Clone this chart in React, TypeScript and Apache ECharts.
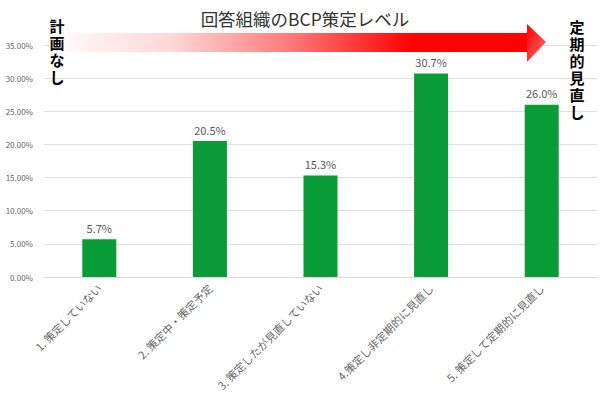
import React, { useEffect, useRef } from "react";
import * as echarts from "echarts";

const categories = [
  "1. 策定していない",
  "2. 策定中・策定予定",
  "3. 策定したが見直していない",
  "4.策定し非定期的に見直し",
  "5. 策定して定期的に見直し",
];
const values = [5.7, 20.5, 15.3, 30.7, 26.0];
const title = "回答組織のBCP策定レベル";
const leftLabel = "計画なし";
const rightLabel = "定期的見直し";

const FONT = '"Noto Sans CJK JP", "Noto Sans", sans-serif';

function verticalText(text: string, cx: number, top: number) {
  return text.split("").map((ch, i) => ({
    type: "text",
    z: 11,
    x: cx,
    y: top + i * 17,
    style: {
      text: ch,
      fontSize: 15,
      fontWeight: "bold",
      fill: "#000000",
      align: "center",
      verticalAlign: "middle",
      fontFamily: FONT,
    },
  }));
}

export default function App() {
  const ref = useRef<HTMLDivElement>(null);
  useEffect(() => {
    document.body.style.margin = "0";
    const chart = echarts.init(ref.current!, null, { renderer: "svg" });
    chart.setOption({
      animation: false,
      textStyle: { fontFamily: FONT },
      grid: { left: 44, right: 3, top: 45, bottom: 120, containLabel: false },
      xAxis: {
        type: "category",
        data: categories,
        axisTick: { show: false },
        axisLine: { show: true, lineStyle: { color: "#d9d9d9", width: 1 } },
        axisLabel: {
          rotate: 45,
          interval: 0,
          color: "#666666",
          fontSize: 11,
          margin: 9,
          fontFamily: FONT,
        },
      },
      yAxis: {
        type: "value",
        min: 0,
        max: 35,
        interval: 5,
        axisLine: { show: false },
        axisTick: { show: false },
        splitLine: { lineStyle: { color: "#e0e0e0", width: 1 } },
        axisLabel: {
          color: "#666666",
          fontSize: 8,
          margin: 11,
          formatter: (v: number) => v.toFixed(2) + "%",
          fontFamily: FONT,
        },
      },
      series: [
        {
          type: "bar",
          data: values,
          barWidth: 34,
          itemStyle: { color: "#0a9c37" },
          label: {
            show: true,
            position: "top",
            color: "#595959",
            fontSize: 11,
            distance: 6,
            formatter: (p: any) => p.value.toFixed(1) + "%",
            fontFamily: FONT,
          },
        },
      ],
      graphic: [
        {
          type: "rect",
          z: 10,
          shape: { x: 52, y: 33, width: 476, height: 19 },
          style: {
            fill: new echarts.graphic.LinearGradient(0, 0, 1, 0, [
              { offset: 0, color: "#ffffff" },
              { offset: 0.08, color: "#fff0f0" },
              { offset: 0.25, color: "#ffd8d8" },
              { offset: 0.5, color: "#ff7a7a" },
              { offset: 0.76, color: "#ff0000" },
              { offset: 1, color: "#ff0000" },
            ]),
          },
        },
        {
          type: "polygon",
          z: 10,
          shape: {
            points: [
              [527, 24],
              [546, 42],
              [527, 62],
            ],
          },
          style: {
            fill: new echarts.graphic.LinearGradient(0, 0, 1, 1, [
              { offset: 0, color: "#ff0000" },
              { offset: 1, color: "#ff7070" },
            ]),
          },
        },
        {
          type: "text",
          z: 11,
          x: 305,
          y: 18,
          style: {
            text: title,
            fontSize: 17.5,
            fill: "#333333",
            align: "center",
            verticalAlign: "middle",
            fontFamily: FONT,
          },
        },
        ...verticalText(leftLabel, 57, 25),
        ...verticalText(rightLabel, 577, 26),
      ],
    });
    return () => chart.dispose();
  }, []);
  return (
    <div
      ref={ref}
      style={{ width: 600, height: 397, position: "absolute", left: 0, top: 0, background: "#fff" }}
    />
  );
}
